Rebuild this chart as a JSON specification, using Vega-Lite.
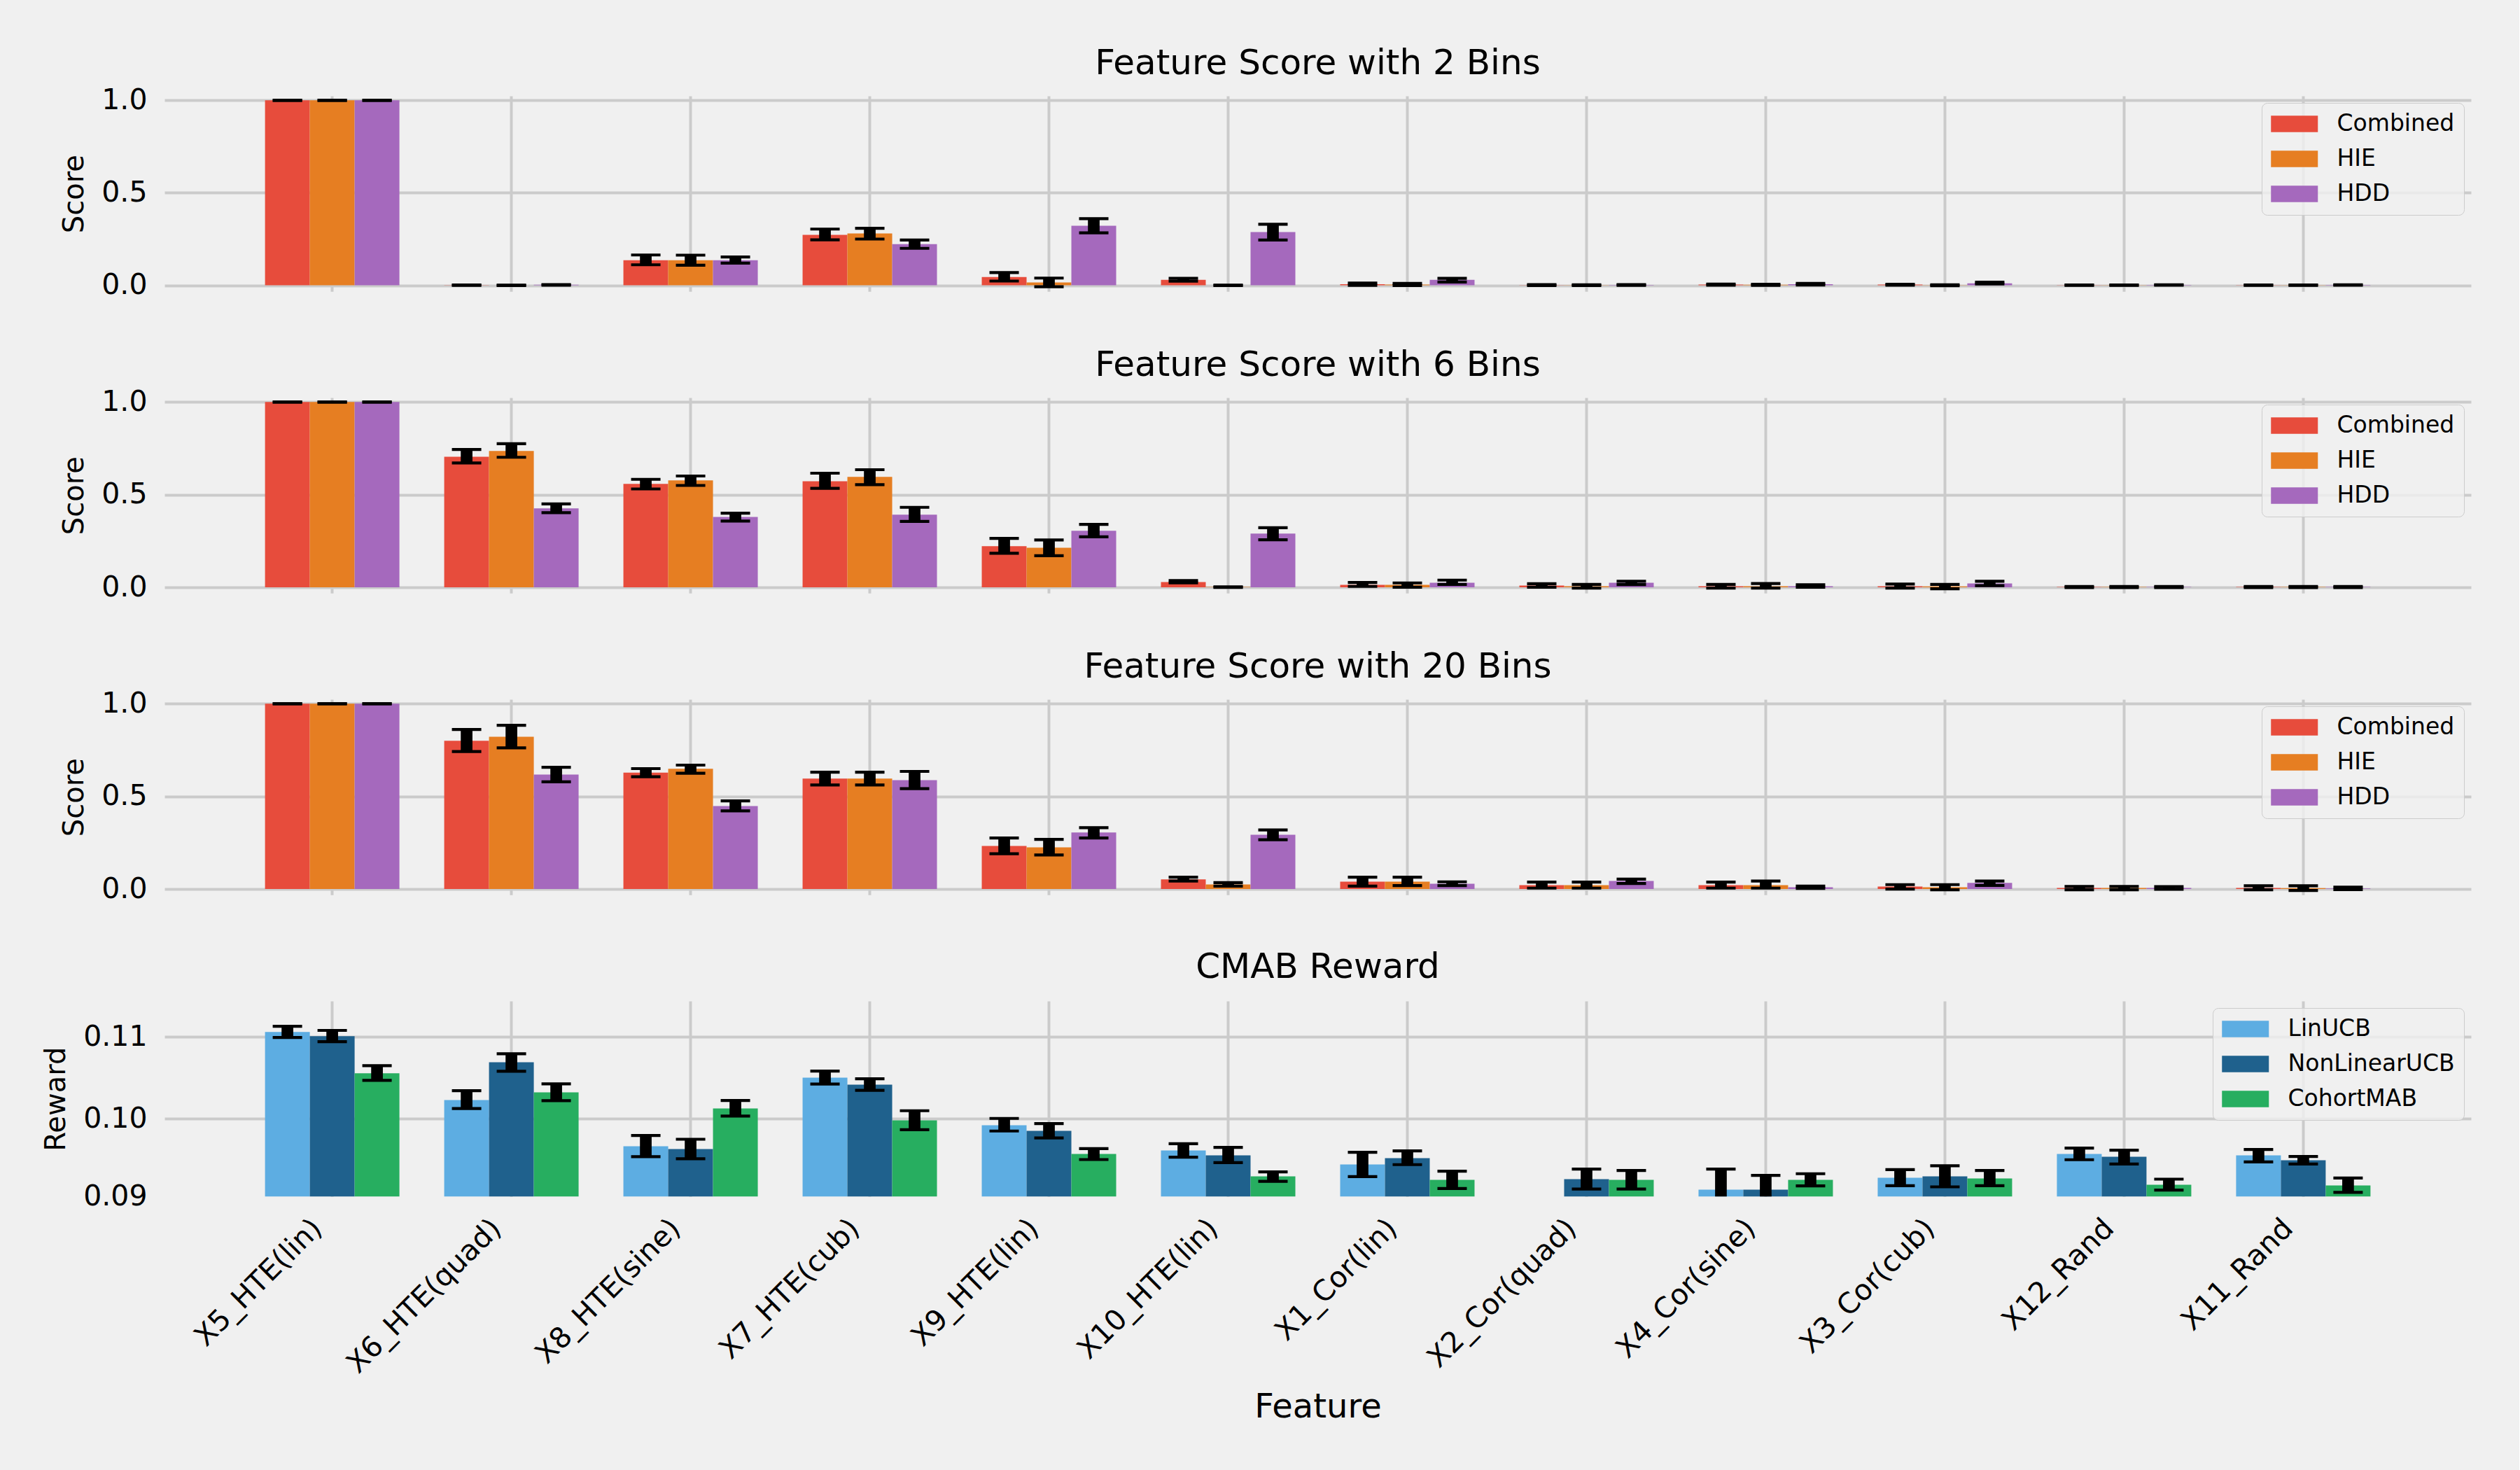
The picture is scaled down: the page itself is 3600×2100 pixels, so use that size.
{
  "$schema": "https://vega.github.io/schema/vega-lite/v6.json",
  "background": "#f0f0f0",
  "padding": {"left": 60, "top": 65, "right": 69, "bottom": 68},
  "config": {
    "font": "DejaVu Sans",
    "view": {"stroke": null},
    "axis": {
      "domain": false,
      "ticks": false,
      "grid": true,
      "gridColor": "#cbcbcb",
      "gridWidth": 4,
      "labelColor": "#000000",
      "titleColor": "#000000",
      "labelFont": "DejaVu Sans",
      "titleFont": "DejaVu Sans",
      "titleFontWeight": "normal",
      "labelFontSize": 41,
      "titleFontSize": 40
    },
    "title": {
      "font": "DejaVu Sans",
      "fontSize": 50,
      "fontWeight": "normal",
      "color": "#000000",
      "anchor": "middle",
      "frame": "group",
      "baseline": "alphabetic",
      "offset": 6.7
    },
    "legend": {
      "title": null,
      "orient": "top-right",
      "offset": 10,
      "labelFont": "DejaVu Sans",
      "labelFontSize": 33,
      "labelColor": "#000000",
      "labelLimit": 600,
      "symbolType": "M-1,-0.7H3V0.7H-1Z",
      "symbolSize": 1122,
      "symbolStrokeWidth": 0,
      "symbolOpacity": 1,
      "labelOffset": 60.5,
      "rowPadding": 16,
      "padding": 13,
      "strokeColor": "#cccccc",
      "fillColor": "rgba(240,240,240,0.8)",
      "cornerRadius": 8
    }
  },
  "datasets": {
    "scores": [
      {"f": "X5_HTE(lin)", "m": "Combined", "bins": 2, "v": 1.0, "lo": 1.0, "hi": 1.0},
      {"f": "X5_HTE(lin)", "m": "HIE", "bins": 2, "v": 1.0, "lo": 1.0, "hi": 1.0},
      {"f": "X5_HTE(lin)", "m": "HDD", "bins": 2, "v": 1.0, "lo": 1.0, "hi": 1.0},
      {"f": "X6_HTE(quad)", "m": "Combined", "bins": 2, "v": 0.001, "lo": 0.0, "hi": 0.002},
      {"f": "X6_HTE(quad)", "m": "HIE", "bins": 2, "v": 0.0, "lo": -0.001, "hi": 0.001},
      {"f": "X6_HTE(quad)", "m": "HDD", "bins": 2, "v": 0.003, "lo": 0.001, "hi": 0.004},
      {"f": "X8_HTE(sine)", "m": "Combined", "bins": 2, "v": 0.136, "lo": 0.111, "hi": 0.164},
      {"f": "X8_HTE(sine)", "m": "HIE", "bins": 2, "v": 0.136, "lo": 0.109, "hi": 0.163},
      {"f": "X8_HTE(sine)", "m": "HDD", "bins": 2, "v": 0.136, "lo": 0.12, "hi": 0.153},
      {"f": "X7_HTE(cub)", "m": "Combined", "bins": 2, "v": 0.273, "lo": 0.246, "hi": 0.304},
      {"f": "X7_HTE(cub)", "m": "HIE", "bins": 2, "v": 0.28, "lo": 0.25, "hi": 0.308},
      {"f": "X7_HTE(cub)", "m": "HDD", "bins": 2, "v": 0.223, "lo": 0.2, "hi": 0.245},
      {"f": "X9_HTE(lin)", "m": "Combined", "bins": 2, "v": 0.045, "lo": 0.023, "hi": 0.069},
      {"f": "X9_HTE(lin)", "m": "HIE", "bins": 2, "v": 0.015, "lo": -0.008, "hi": 0.039},
      {"f": "X9_HTE(lin)", "m": "HDD", "bins": 2, "v": 0.322, "lo": 0.284, "hi": 0.36},
      {"f": "X10_HTE(lin)", "m": "Combined", "bins": 2, "v": 0.03, "lo": 0.022, "hi": 0.038},
      {"f": "X10_HTE(lin)", "m": "HIE", "bins": 2, "v": 0.0, "lo": -0.001, "hi": 0.001},
      {"f": "X10_HTE(lin)", "m": "HDD", "bins": 2, "v": 0.288, "lo": 0.245, "hi": 0.33},
      {"f": "X1_Cor(lin)", "m": "Combined", "bins": 2, "v": 0.006, "lo": 0.0, "hi": 0.012},
      {"f": "X1_Cor(lin)", "m": "HIE", "bins": 2, "v": 0.004, "lo": -0.001, "hi": 0.01},
      {"f": "X1_Cor(lin)", "m": "HDD", "bins": 2, "v": 0.03, "lo": 0.018, "hi": 0.038},
      {"f": "X2_Cor(quad)", "m": "Combined", "bins": 2, "v": 0.001, "lo": -0.001, "hi": 0.004},
      {"f": "X2_Cor(quad)", "m": "HIE", "bins": 2, "v": 0.001, "lo": -0.001, "hi": 0.003},
      {"f": "X2_Cor(quad)", "m": "HDD", "bins": 2, "v": 0.002, "lo": 0.0, "hi": 0.004},
      {"f": "X4_Cor(sine)", "m": "Combined", "bins": 2, "v": 0.004, "lo": 0.001, "hi": 0.007},
      {"f": "X4_Cor(sine)", "m": "HIE", "bins": 2, "v": 0.003, "lo": 0.0, "hi": 0.006},
      {"f": "X4_Cor(sine)", "m": "HDD", "bins": 2, "v": 0.006, "lo": 0.002, "hi": 0.01},
      {"f": "X3_Cor(cub)", "m": "Combined", "bins": 2, "v": 0.004, "lo": 0.001, "hi": 0.006},
      {"f": "X3_Cor(cub)", "m": "HIE", "bins": 2, "v": 0.001, "lo": -0.002, "hi": 0.003},
      {"f": "X3_Cor(cub)", "m": "HDD", "bins": 2, "v": 0.011, "lo": 0.007, "hi": 0.017},
      {"f": "X12_Rand", "m": "Combined", "bins": 2, "v": 0.001, "lo": 0.0, "hi": 0.002},
      {"f": "X12_Rand", "m": "HIE", "bins": 2, "v": 0.001, "lo": 0.0, "hi": 0.002},
      {"f": "X12_Rand", "m": "HDD", "bins": 2, "v": 0.002, "lo": 0.001, "hi": 0.003},
      {"f": "X11_Rand", "m": "Combined", "bins": 2, "v": 0.001, "lo": 0.0, "hi": 0.002},
      {"f": "X11_Rand", "m": "HIE", "bins": 2, "v": 0.001, "lo": 0.0, "hi": 0.002},
      {"f": "X11_Rand", "m": "HDD", "bins": 2, "v": 0.002, "lo": 0.001, "hi": 0.003},

      {"f": "X5_HTE(lin)", "m": "Combined", "bins": 6, "v": 1.0, "lo": 1.0, "hi": 1.0},
      {"f": "X5_HTE(lin)", "m": "HIE", "bins": 6, "v": 1.0, "lo": 1.0, "hi": 1.0},
      {"f": "X5_HTE(lin)", "m": "HDD", "bins": 6, "v": 1.0, "lo": 1.0, "hi": 1.0},
      {"f": "X6_HTE(quad)", "m": "Combined", "bins": 6, "v": 0.705, "lo": 0.671, "hi": 0.744},
      {"f": "X6_HTE(quad)", "m": "HIE", "bins": 6, "v": 0.736, "lo": 0.702, "hi": 0.775},
      {"f": "X6_HTE(quad)", "m": "HDD", "bins": 6, "v": 0.426, "lo": 0.403, "hi": 0.45},
      {"f": "X8_HTE(sine)", "m": "Combined", "bins": 6, "v": 0.558, "lo": 0.531, "hi": 0.583},
      {"f": "X8_HTE(sine)", "m": "HIE", "bins": 6, "v": 0.577, "lo": 0.55, "hi": 0.601},
      {"f": "X8_HTE(sine)", "m": "HDD", "bins": 6, "v": 0.38, "lo": 0.358, "hi": 0.4},
      {"f": "X7_HTE(cub)", "m": "Combined", "bins": 6, "v": 0.573, "lo": 0.534, "hi": 0.616},
      {"f": "X7_HTE(cub)", "m": "HIE", "bins": 6, "v": 0.596, "lo": 0.554, "hi": 0.635},
      {"f": "X7_HTE(cub)", "m": "HDD", "bins": 6, "v": 0.392, "lo": 0.356, "hi": 0.432},
      {"f": "X9_HTE(lin)", "m": "Combined", "bins": 6, "v": 0.222, "lo": 0.184, "hi": 0.264},
      {"f": "X9_HTE(lin)", "m": "HIE", "bins": 6, "v": 0.214, "lo": 0.171, "hi": 0.256},
      {"f": "X9_HTE(lin)", "m": "HDD", "bins": 6, "v": 0.305, "lo": 0.273, "hi": 0.34},
      {"f": "X10_HTE(lin)", "m": "Combined", "bins": 6, "v": 0.029, "lo": 0.024, "hi": 0.037},
      {"f": "X10_HTE(lin)", "m": "HIE", "bins": 6, "v": 0.002, "lo": 0.0, "hi": 0.003},
      {"f": "X10_HTE(lin)", "m": "HDD", "bins": 6, "v": 0.29, "lo": 0.257, "hi": 0.322},
      {"f": "X1_Cor(lin)", "m": "Combined", "bins": 6, "v": 0.014, "lo": 0.005, "hi": 0.026},
      {"f": "X1_Cor(lin)", "m": "HIE", "bins": 6, "v": 0.014, "lo": 0.001, "hi": 0.024},
      {"f": "X1_Cor(lin)", "m": "HDD", "bins": 6, "v": 0.025, "lo": 0.016, "hi": 0.039},
      {"f": "X2_Cor(quad)", "m": "Combined", "bins": 6, "v": 0.01, "lo": 0.001, "hi": 0.02},
      {"f": "X2_Cor(quad)", "m": "HIE", "bins": 6, "v": 0.006, "lo": -0.004, "hi": 0.016},
      {"f": "X2_Cor(quad)", "m": "HDD", "bins": 6, "v": 0.025, "lo": 0.015, "hi": 0.033},
      {"f": "X4_Cor(sine)", "m": "Combined", "bins": 6, "v": 0.006, "lo": -0.004, "hi": 0.016},
      {"f": "X4_Cor(sine)", "m": "HIE", "bins": 6, "v": 0.006, "lo": -0.004, "hi": 0.021},
      {"f": "X4_Cor(sine)", "m": "HDD", "bins": 6, "v": 0.006, "lo": 0.001, "hi": 0.014},
      {"f": "X3_Cor(cub)", "m": "Combined", "bins": 6, "v": 0.006, "lo": -0.004, "hi": 0.018},
      {"f": "X3_Cor(cub)", "m": "HIE", "bins": 6, "v": 0.005, "lo": -0.008, "hi": 0.016},
      {"f": "X3_Cor(cub)", "m": "HDD", "bins": 6, "v": 0.021, "lo": 0.009, "hi": 0.033},
      {"f": "X12_Rand", "m": "Combined", "bins": 6, "v": 0.002, "lo": -0.001, "hi": 0.005},
      {"f": "X12_Rand", "m": "HIE", "bins": 6, "v": 0.002, "lo": -0.001, "hi": 0.005},
      {"f": "X12_Rand", "m": "HDD", "bins": 6, "v": 0.002, "lo": -0.001, "hi": 0.005},
      {"f": "X11_Rand", "m": "Combined", "bins": 6, "v": 0.002, "lo": -0.001, "hi": 0.005},
      {"f": "X11_Rand", "m": "HIE", "bins": 6, "v": 0.002, "lo": -0.001, "hi": 0.005},
      {"f": "X11_Rand", "m": "HDD", "bins": 6, "v": 0.002, "lo": -0.001, "hi": 0.005},

      {"f": "X5_HTE(lin)", "m": "Combined", "bins": 20, "v": 1.0, "lo": 1.0, "hi": 1.0},
      {"f": "X5_HTE(lin)", "m": "HIE", "bins": 20, "v": 1.0, "lo": 1.0, "hi": 1.0},
      {"f": "X5_HTE(lin)", "m": "HDD", "bins": 20, "v": 1.0, "lo": 1.0, "hi": 1.0},
      {"f": "X6_HTE(quad)", "m": "Combined", "bins": 20, "v": 0.8, "lo": 0.742, "hi": 0.861},
      {"f": "X6_HTE(quad)", "m": "HIE", "bins": 20, "v": 0.822, "lo": 0.762, "hi": 0.884},
      {"f": "X6_HTE(quad)", "m": "HDD", "bins": 20, "v": 0.618, "lo": 0.579, "hi": 0.657},
      {"f": "X8_HTE(sine)", "m": "Combined", "bins": 20, "v": 0.628, "lo": 0.606, "hi": 0.65},
      {"f": "X8_HTE(sine)", "m": "HIE", "bins": 20, "v": 0.649, "lo": 0.625, "hi": 0.669},
      {"f": "X8_HTE(sine)", "m": "HDD", "bins": 20, "v": 0.448, "lo": 0.422, "hi": 0.476},
      {"f": "X7_HTE(cub)", "m": "Combined", "bins": 20, "v": 0.596, "lo": 0.562, "hi": 0.631},
      {"f": "X7_HTE(cub)", "m": "HIE", "bins": 20, "v": 0.596, "lo": 0.562, "hi": 0.631},
      {"f": "X7_HTE(cub)", "m": "HDD", "bins": 20, "v": 0.588, "lo": 0.542, "hi": 0.635},
      {"f": "X9_HTE(lin)", "m": "Combined", "bins": 20, "v": 0.233, "lo": 0.191, "hi": 0.276},
      {"f": "X9_HTE(lin)", "m": "HIE", "bins": 20, "v": 0.225, "lo": 0.184, "hi": 0.268},
      {"f": "X9_HTE(lin)", "m": "HDD", "bins": 20, "v": 0.305, "lo": 0.276, "hi": 0.331},
      {"f": "X10_HTE(lin)", "m": "Combined", "bins": 20, "v": 0.052, "lo": 0.043, "hi": 0.064},
      {"f": "X10_HTE(lin)", "m": "HIE", "bins": 20, "v": 0.025, "lo": 0.016, "hi": 0.035},
      {"f": "X10_HTE(lin)", "m": "HDD", "bins": 20, "v": 0.293, "lo": 0.266, "hi": 0.319},
      {"f": "X1_Cor(lin)", "m": "Combined", "bins": 20, "v": 0.04, "lo": 0.016, "hi": 0.064},
      {"f": "X1_Cor(lin)", "m": "HIE", "bins": 20, "v": 0.04, "lo": 0.019, "hi": 0.064},
      {"f": "X1_Cor(lin)", "m": "HDD", "bins": 20, "v": 0.029, "lo": 0.019, "hi": 0.039},
      {"f": "X2_Cor(quad)", "m": "Combined", "bins": 20, "v": 0.021, "lo": 0.005, "hi": 0.038},
      {"f": "X2_Cor(quad)", "m": "HIE", "bins": 20, "v": 0.021, "lo": 0.005, "hi": 0.038},
      {"f": "X2_Cor(quad)", "m": "HDD", "bins": 20, "v": 0.044, "lo": 0.03, "hi": 0.054},
      {"f": "X4_Cor(sine)", "m": "Combined", "bins": 20, "v": 0.021, "lo": 0.005, "hi": 0.038},
      {"f": "X4_Cor(sine)", "m": "HIE", "bins": 20, "v": 0.021, "lo": 0.005, "hi": 0.043},
      {"f": "X4_Cor(sine)", "m": "HDD", "bins": 20, "v": 0.01, "lo": 0.004, "hi": 0.016},
      {"f": "X3_Cor(cub)", "m": "Combined", "bins": 20, "v": 0.014, "lo": 0.0, "hi": 0.024},
      {"f": "X3_Cor(cub)", "m": "HIE", "bins": 20, "v": 0.01, "lo": -0.004, "hi": 0.024},
      {"f": "X3_Cor(cub)", "m": "HDD", "bins": 20, "v": 0.033, "lo": 0.02, "hi": 0.043},
      {"f": "X12_Rand", "m": "Combined", "bins": 20, "v": 0.006, "lo": -0.004, "hi": 0.014},
      {"f": "X12_Rand", "m": "HIE", "bins": 20, "v": 0.006, "lo": -0.004, "hi": 0.014},
      {"f": "X12_Rand", "m": "HDD", "bins": 20, "v": 0.006, "lo": -0.001, "hi": 0.013},
      {"f": "X11_Rand", "m": "Combined", "bins": 20, "v": 0.006, "lo": -0.004, "hi": 0.018},
      {"f": "X11_Rand", "m": "HIE", "bins": 20, "v": 0.005, "lo": -0.008, "hi": 0.018},
      {"f": "X11_Rand", "m": "HDD", "bins": 20, "v": 0.003, "lo": -0.003, "hi": 0.01}
    ],
    "reward": [
      {"f": "X5_HTE(lin)", "m": "LinUCB", "v": 0.11057, "lo": 0.10991, "hi": 0.11128},
      {"f": "X5_HTE(lin)", "m": "NonLinearUCB", "v": 0.11006, "lo": 0.1094, "hi": 0.11077},
      {"f": "X5_HTE(lin)", "m": "CohortMAB", "v": 0.10553, "lo": 0.10467, "hi": 0.10647},
      {"f": "X6_HTE(quad)", "m": "LinUCB", "v": 0.10228, "lo": 0.10123, "hi": 0.10342},
      {"f": "X6_HTE(quad)", "m": "NonLinearUCB", "v": 0.10689, "lo": 0.10578, "hi": 0.10792},
      {"f": "X6_HTE(quad)", "m": "CohortMAB", "v": 0.10322, "lo": 0.10219, "hi": 0.10425},
      {"f": "X8_HTE(sine)", "m": "LinUCB", "v": 0.09664, "lo": 0.09536, "hi": 0.09795},
      {"f": "X8_HTE(sine)", "m": "NonLinearUCB", "v": 0.0963, "lo": 0.0951, "hi": 0.09749},
      {"f": "X8_HTE(sine)", "m": "CohortMAB", "v": 0.10125, "lo": 0.10031, "hi": 0.10222},
      {"f": "X7_HTE(cub)", "m": "LinUCB", "v": 0.10501, "lo": 0.10422, "hi": 0.10581},
      {"f": "X7_HTE(cub)", "m": "NonLinearUCB", "v": 0.10416, "lo": 0.10345, "hi": 0.10487},
      {"f": "X7_HTE(cub)", "m": "CohortMAB", "v": 0.0998, "lo": 0.09866, "hi": 0.10097},
      {"f": "X9_HTE(lin)", "m": "LinUCB", "v": 0.0992, "lo": 0.09849, "hi": 0.10003},
      {"f": "X9_HTE(lin)", "m": "NonLinearUCB", "v": 0.09852, "lo": 0.09764, "hi": 0.0994},
      {"f": "X9_HTE(lin)", "m": "CohortMAB", "v": 0.0957, "lo": 0.09501, "hi": 0.09635},
      {"f": "X10_HTE(lin)", "m": "LinUCB", "v": 0.09613, "lo": 0.0953, "hi": 0.09695},
      {"f": "X10_HTE(lin)", "m": "NonLinearUCB", "v": 0.09553, "lo": 0.09464, "hi": 0.0965},
      {"f": "X10_HTE(lin)", "m": "CohortMAB", "v": 0.09296, "lo": 0.09236, "hi": 0.0935},
      {"f": "X1_Cor(lin)", "m": "LinUCB", "v": 0.09442, "lo": 0.09293, "hi": 0.0959},
      {"f": "X1_Cor(lin)", "m": "NonLinearUCB", "v": 0.09519, "lo": 0.09439, "hi": 0.09607},
      {"f": "X1_Cor(lin)", "m": "CohortMAB", "v": 0.09254, "lo": 0.09148, "hi": 0.09359},
      {"f": "X2_Cor(quad)", "m": "LinUCB", "v": 0.0895, "lo": 0.0888, "hi": 0.0902},
      {"f": "X2_Cor(quad)", "m": "NonLinearUCB", "v": 0.09262, "lo": 0.09142, "hi": 0.09385},
      {"f": "X2_Cor(quad)", "m": "CohortMAB", "v": 0.09254, "lo": 0.09142, "hi": 0.09368},
      {"f": "X4_Cor(sine)", "m": "LinUCB", "v": 0.09134, "lo": 0.08883, "hi": 0.09385},
      {"f": "X4_Cor(sine)", "m": "NonLinearUCB", "v": 0.09134, "lo": 0.0896, "hi": 0.09308},
      {"f": "X4_Cor(sine)", "m": "CohortMAB", "v": 0.09254, "lo": 0.0918, "hi": 0.09328},
      {"f": "X3_Cor(cub)", "m": "LinUCB", "v": 0.09279, "lo": 0.09182, "hi": 0.09379},
      {"f": "X3_Cor(cub)", "m": "NonLinearUCB", "v": 0.09296, "lo": 0.09168, "hi": 0.09425},
      {"f": "X3_Cor(cub)", "m": "CohortMAB", "v": 0.09271, "lo": 0.09182, "hi": 0.09368},
      {"f": "X12_Rand", "m": "LinUCB", "v": 0.0957, "lo": 0.09499, "hi": 0.09641},
      {"f": "X12_Rand", "m": "NonLinearUCB", "v": 0.09536, "lo": 0.09447, "hi": 0.09615},
      {"f": "X12_Rand", "m": "CohortMAB", "v": 0.09194, "lo": 0.09128, "hi": 0.09262},
      {"f": "X11_Rand", "m": "LinUCB", "v": 0.09553, "lo": 0.09473, "hi": 0.09624},
      {"f": "X11_Rand", "m": "NonLinearUCB", "v": 0.09493, "lo": 0.09447, "hi": 0.09538},
      {"f": "X11_Rand", "m": "CohortMAB", "v": 0.09185, "lo": 0.091, "hi": 0.09276}
    ]
  },
  "bounds": "flush",
  "spacing": 151,
  "resolve": {"scale": {"x": "independent", "y": "independent", "xOffset": "independent", "color": "independent"}},
  "vconcat": [
    {
      "width": 3295, "height": 279.3,
      "title": "Feature Score with 2 Bins",
      "data": {"name": "scores"},
      "transform": [{"filter": "datum.bins == 2"}],
      "encoding": {
        "x": {"field": "f", "type": "nominal", "sort": ["X5_HTE(lin)", "X6_HTE(quad)", "X8_HTE(sine)", "X7_HTE(cub)", "X9_HTE(lin)", "X10_HTE(lin)", "X1_Cor(lin)", "X2_Cor(quad)", "X4_Cor(sine)", "X3_Cor(cub)", "X12_Rand", "X11_Rand"],
              "scale": {"paddingInner": 0.25, "paddingOuter": 0.561},
              "axis": {"labels": false, "title": null, "bandPosition": 0.5}},
        "xOffset": {"field": "m", "type": "nominal", "sort": ["Combined", "HIE", "HDD"], "scale": {"paddingInner": 0, "paddingOuter": 0}}
      },
      "layer": [
        {"mark": {"type": "bar", "clip": true},
         "encoding": {
           "y": {"field": "v", "type": "quantitative", "scale": {"domain": [-0.033, 1.024], "nice": false},
                 "axis": {"values": [0, 0.5, 1], "format": ".1f", "title": "Score", "labelPadding": 25, "titlePadding": 18}},
           "color": {"field": "m", "type": "nominal", "scale": {"domain": ["Combined", "HIE", "HDD"], "range": ["#e74c3c", "#e67e22", "#a569bd"]}}
         }},
        {"mark": {"type": "rule", "color": "#000000", "strokeWidth": 16.7, "strokeCap": "butt", "clip": true},
         "encoding": {"y": {"field": "lo", "type": "quantitative"}, "y2": {"field": "hi"}}},
        {"mark": {"type": "tick", "color": "#000000", "size": 42, "thickness": 4.2, "opacity": 1, "clip": true},
         "encoding": {"y": {"field": "lo", "type": "quantitative"}}},
        {"mark": {"type": "tick", "color": "#000000", "size": 42, "thickness": 4.2, "opacity": 1, "clip": true},
         "encoding": {"y": {"field": "hi", "type": "quantitative"}}}
      ]
    },
    {
      "width": 3295, "height": 279.3,
      "title": "Feature Score with 6 Bins",
      "data": {"name": "scores"},
      "transform": [{"filter": "datum.bins == 6"}],
      "encoding": {
        "x": {"field": "f", "type": "nominal", "sort": ["X5_HTE(lin)", "X6_HTE(quad)", "X8_HTE(sine)", "X7_HTE(cub)", "X9_HTE(lin)", "X10_HTE(lin)", "X1_Cor(lin)", "X2_Cor(quad)", "X4_Cor(sine)", "X3_Cor(cub)", "X12_Rand", "X11_Rand"],
              "scale": {"paddingInner": 0.25, "paddingOuter": 0.561},
              "axis": {"labels": false, "title": null, "bandPosition": 0.5}},
        "xOffset": {"field": "m", "type": "nominal", "sort": ["Combined", "HIE", "HDD"], "scale": {"paddingInner": 0, "paddingOuter": 0}}
      },
      "layer": [
        {"mark": {"type": "bar", "clip": true},
         "encoding": {
           "y": {"field": "v", "type": "quantitative", "scale": {"domain": [-0.031, 1.024], "nice": false},
                 "axis": {"values": [0, 0.5, 1], "format": ".1f", "title": "Score", "labelPadding": 25, "titlePadding": 18}},
           "color": {"field": "m", "type": "nominal", "scale": {"domain": ["Combined", "HIE", "HDD"], "range": ["#e74c3c", "#e67e22", "#a569bd"]}}
         }},
        {"mark": {"type": "rule", "color": "#000000", "strokeWidth": 16.7, "strokeCap": "butt", "clip": true},
         "encoding": {"y": {"field": "lo", "type": "quantitative"}, "y2": {"field": "hi"}}},
        {"mark": {"type": "tick", "color": "#000000", "size": 42, "thickness": 4.2, "opacity": 1, "clip": true},
         "encoding": {"y": {"field": "lo", "type": "quantitative"}}},
        {"mark": {"type": "tick", "color": "#000000", "size": 42, "thickness": 4.2, "opacity": 1, "clip": true},
         "encoding": {"y": {"field": "hi", "type": "quantitative"}}}
      ]
    },
    {
      "width": 3295, "height": 279.3,
      "title": "Feature Score with 20 Bins",
      "data": {"name": "scores"},
      "transform": [{"filter": "datum.bins == 20"}],
      "encoding": {
        "x": {"field": "f", "type": "nominal", "sort": ["X5_HTE(lin)", "X6_HTE(quad)", "X8_HTE(sine)", "X7_HTE(cub)", "X9_HTE(lin)", "X10_HTE(lin)", "X1_Cor(lin)", "X2_Cor(quad)", "X4_Cor(sine)", "X3_Cor(cub)", "X12_Rand", "X11_Rand"],
              "scale": {"paddingInner": 0.25, "paddingOuter": 0.561},
              "axis": {"labels": false, "title": null, "bandPosition": 0.5}},
        "xOffset": {"field": "m", "type": "nominal", "sort": ["Combined", "HIE", "HDD"], "scale": {"paddingInner": 0, "paddingOuter": 0}}
      },
      "layer": [
        {"mark": {"type": "bar", "clip": true},
         "encoding": {
           "y": {"field": "v", "type": "quantitative", "scale": {"domain": [-0.031, 1.024], "nice": false},
                 "axis": {"values": [0, 0.5, 1], "format": ".1f", "title": "Score", "labelPadding": 25, "titlePadding": 18}},
           "color": {"field": "m", "type": "nominal", "scale": {"domain": ["Combined", "HIE", "HDD"], "range": ["#e74c3c", "#e67e22", "#a569bd"]}}
         }},
        {"mark": {"type": "rule", "color": "#000000", "strokeWidth": 16.7, "strokeCap": "butt", "clip": true},
         "encoding": {"y": {"field": "lo", "type": "quantitative"}, "y2": {"field": "hi"}}},
        {"mark": {"type": "tick", "color": "#000000", "size": 42, "thickness": 4.2, "opacity": 1, "clip": true},
         "encoding": {"y": {"field": "lo", "type": "quantitative"}}},
        {"mark": {"type": "tick", "color": "#000000", "size": 42, "thickness": 4.2, "opacity": 1, "clip": true},
         "encoding": {"y": {"field": "hi", "type": "quantitative"}}}
      ]
    },
    {
      "width": 3295, "height": 279.3,
      "title": {"text": "CMAB Reward", "offset": 22.7},
      "data": {"name": "reward"},
      "encoding": {
        "x": {"field": "f", "type": "nominal", "sort": ["X5_HTE(lin)", "X6_HTE(quad)", "X8_HTE(sine)", "X7_HTE(cub)", "X9_HTE(lin)", "X10_HTE(lin)", "X1_Cor(lin)", "X2_Cor(quad)", "X4_Cor(sine)", "X3_Cor(cub)", "X12_Rand", "X11_Rand"],
              "scale": {"paddingInner": 0.25, "paddingOuter": 0.561},
              "axis": {"title": "Feature", "titleFontSize": 48, "titleBaseline": "alphabetic", "titleY": 315, "labelAngle": -45, "labelAlign": "right", "labelBaseline": "top", "labelPadding": 25, "labelOffset": -35, "labelFontSize": 41, "labelLimit": 0, "bandPosition": 0.5}},
        "xOffset": {"field": "m", "type": "nominal", "sort": ["LinUCB", "NonLinearUCB", "CohortMAB"], "scale": {"paddingInner": 0, "paddingOuter": 0}}
      },
      "layer": [
        {"mark": {"type": "bar", "clip": true},
         "encoding": {
           "y": {"field": "v", "type": "quantitative", "scale": {"domain": [0.0905, 0.11436], "nice": false, "zero": false},
                 "axis": {"values": [0.0905, 0.1, 0.11], "format": ".2f", "title": "Reward", "labelPadding": 25, "titlePadding": 18,
                          "gridOpacity": {"condition": {"test": "datum.value < 0.095", "value": 0}, "value": 1}}},
           "color": {"field": "m", "type": "nominal", "scale": {"domain": ["LinUCB", "NonLinearUCB", "CohortMAB"], "range": ["#5dade2", "#1f618d", "#27ae60"]}}
         }},
        {"mark": {"type": "rule", "color": "#000000", "strokeWidth": 16.7, "strokeCap": "butt", "clip": true},
         "encoding": {"y": {"field": "lo", "type": "quantitative"}, "y2": {"field": "hi"}}},
        {"mark": {"type": "tick", "color": "#000000", "size": 42, "thickness": 4.2, "opacity": 1, "clip": true},
         "encoding": {"y": {"field": "lo", "type": "quantitative"}}},
        {"mark": {"type": "tick", "color": "#000000", "size": 42, "thickness": 4.2, "opacity": 1, "clip": true},
         "encoding": {"y": {"field": "hi", "type": "quantitative"}}}
      ]
    }
  ]
}
